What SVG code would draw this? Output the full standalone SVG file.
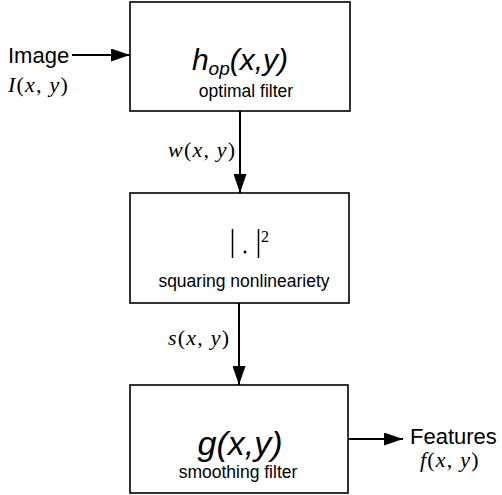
<svg xmlns="http://www.w3.org/2000/svg" width="502" height="495" viewBox="0 0 502 495">
  <style>
    .box { fill: #fff; stroke: #000; stroke-width: 1.6; }
    .wire { stroke: #000; stroke-width: 2; fill: none; }
    .sans { font-family: "Liberation Sans", Arial, sans-serif; fill: #000; }
    .math { font-family: "Liberation Serif", "Times New Roman", serif; font-style: italic; font-size: 22px; letter-spacing: 1.2px; fill: #000; }
    .up { font-style: normal; }
    .label { font-size: 17.5px; text-anchor: middle; }
  </style>
  <defs>
    <marker id="head" viewBox="0 0 19 13" refX="19" refY="6.5" markerWidth="19" markerHeight="13" markerUnits="userSpaceOnUse" orient="auto">
      <path d="M0,0 L19,6.5 L0,13 Z" fill="#000"/>
    </marker>
  </defs>

  <g id="connectors">
    <line class="wire" x1="72" y1="55" x2="130" y2="55" marker-end="url(#head)"/>
    <line class="wire" x1="240" y1="111" x2="240" y2="193" marker-end="url(#head)"/>
    <line class="wire" x1="239" y1="303" x2="239" y2="385" marker-end="url(#head)"/>
    <line class="wire" x1="348" y1="439" x2="403" y2="439" marker-end="url(#head)"/>
  </g>

  <g id="input">
    <text class="sans" x="8" y="63" font-size="22">Image</text>
    <text class="math" x="8" y="92">I<tspan class="up">(</tspan>x<tspan class="up">,</tspan> y<tspan class="up">)</tspan></text>
  </g>

  <g id="optimal-filter">
    <rect class="box" x="130" y="2" width="220" height="109"/>
    <text class="sans" x="240" y="70" font-size="30" font-style="italic" text-anchor="middle">h<tspan font-size="19" dy="5">op</tspan><tspan dy="-5">(x,y)</tspan></text>
    <text class="sans label" x="246" y="97">optimal filter</text>
  </g>

  <text class="math" x="168" y="157">w<tspan class="up">(</tspan>x<tspan class="up">,</tspan> y<tspan class="up">)</tspan></text>

  <g id="squaring">
    <rect class="box" x="130" y="193" width="219" height="110"/>
    <line x1="232.5" y1="229" x2="232.5" y2="258" stroke="#000" stroke-width="1.5"/>
    <circle cx="245" cy="252" r="1.5" fill="#000"/>
    <line x1="258.5" y1="229" x2="258.5" y2="258" stroke="#000" stroke-width="1.5"/>
    <text x="261" y="242" font-family="Liberation Serif, Times New Roman, serif" font-size="16">2</text>
    <text class="sans label" x="244" y="287" font-size="18">squaring nonlineariety</text>
  </g>

  <text class="math" x="168" y="345">s<tspan class="up">(</tspan>x<tspan class="up">,</tspan> y<tspan class="up">)</tspan></text>

  <g id="smoothing-filter">
    <rect class="box" x="130" y="385" width="218" height="108"/>
    <text class="sans" x="240" y="455" font-size="34" font-style="italic" text-anchor="middle">g(x,y)</text>
    <text class="sans label" x="238" y="478">smoothing filter</text>
  </g>

  <g id="output">
    <text class="sans" x="410" y="444" font-size="22">Features</text>
    <text class="math" x="420" y="467">f<tspan class="up">(</tspan>x<tspan class="up">,</tspan> y<tspan class="up">)</tspan></text>
  </g>
</svg>
